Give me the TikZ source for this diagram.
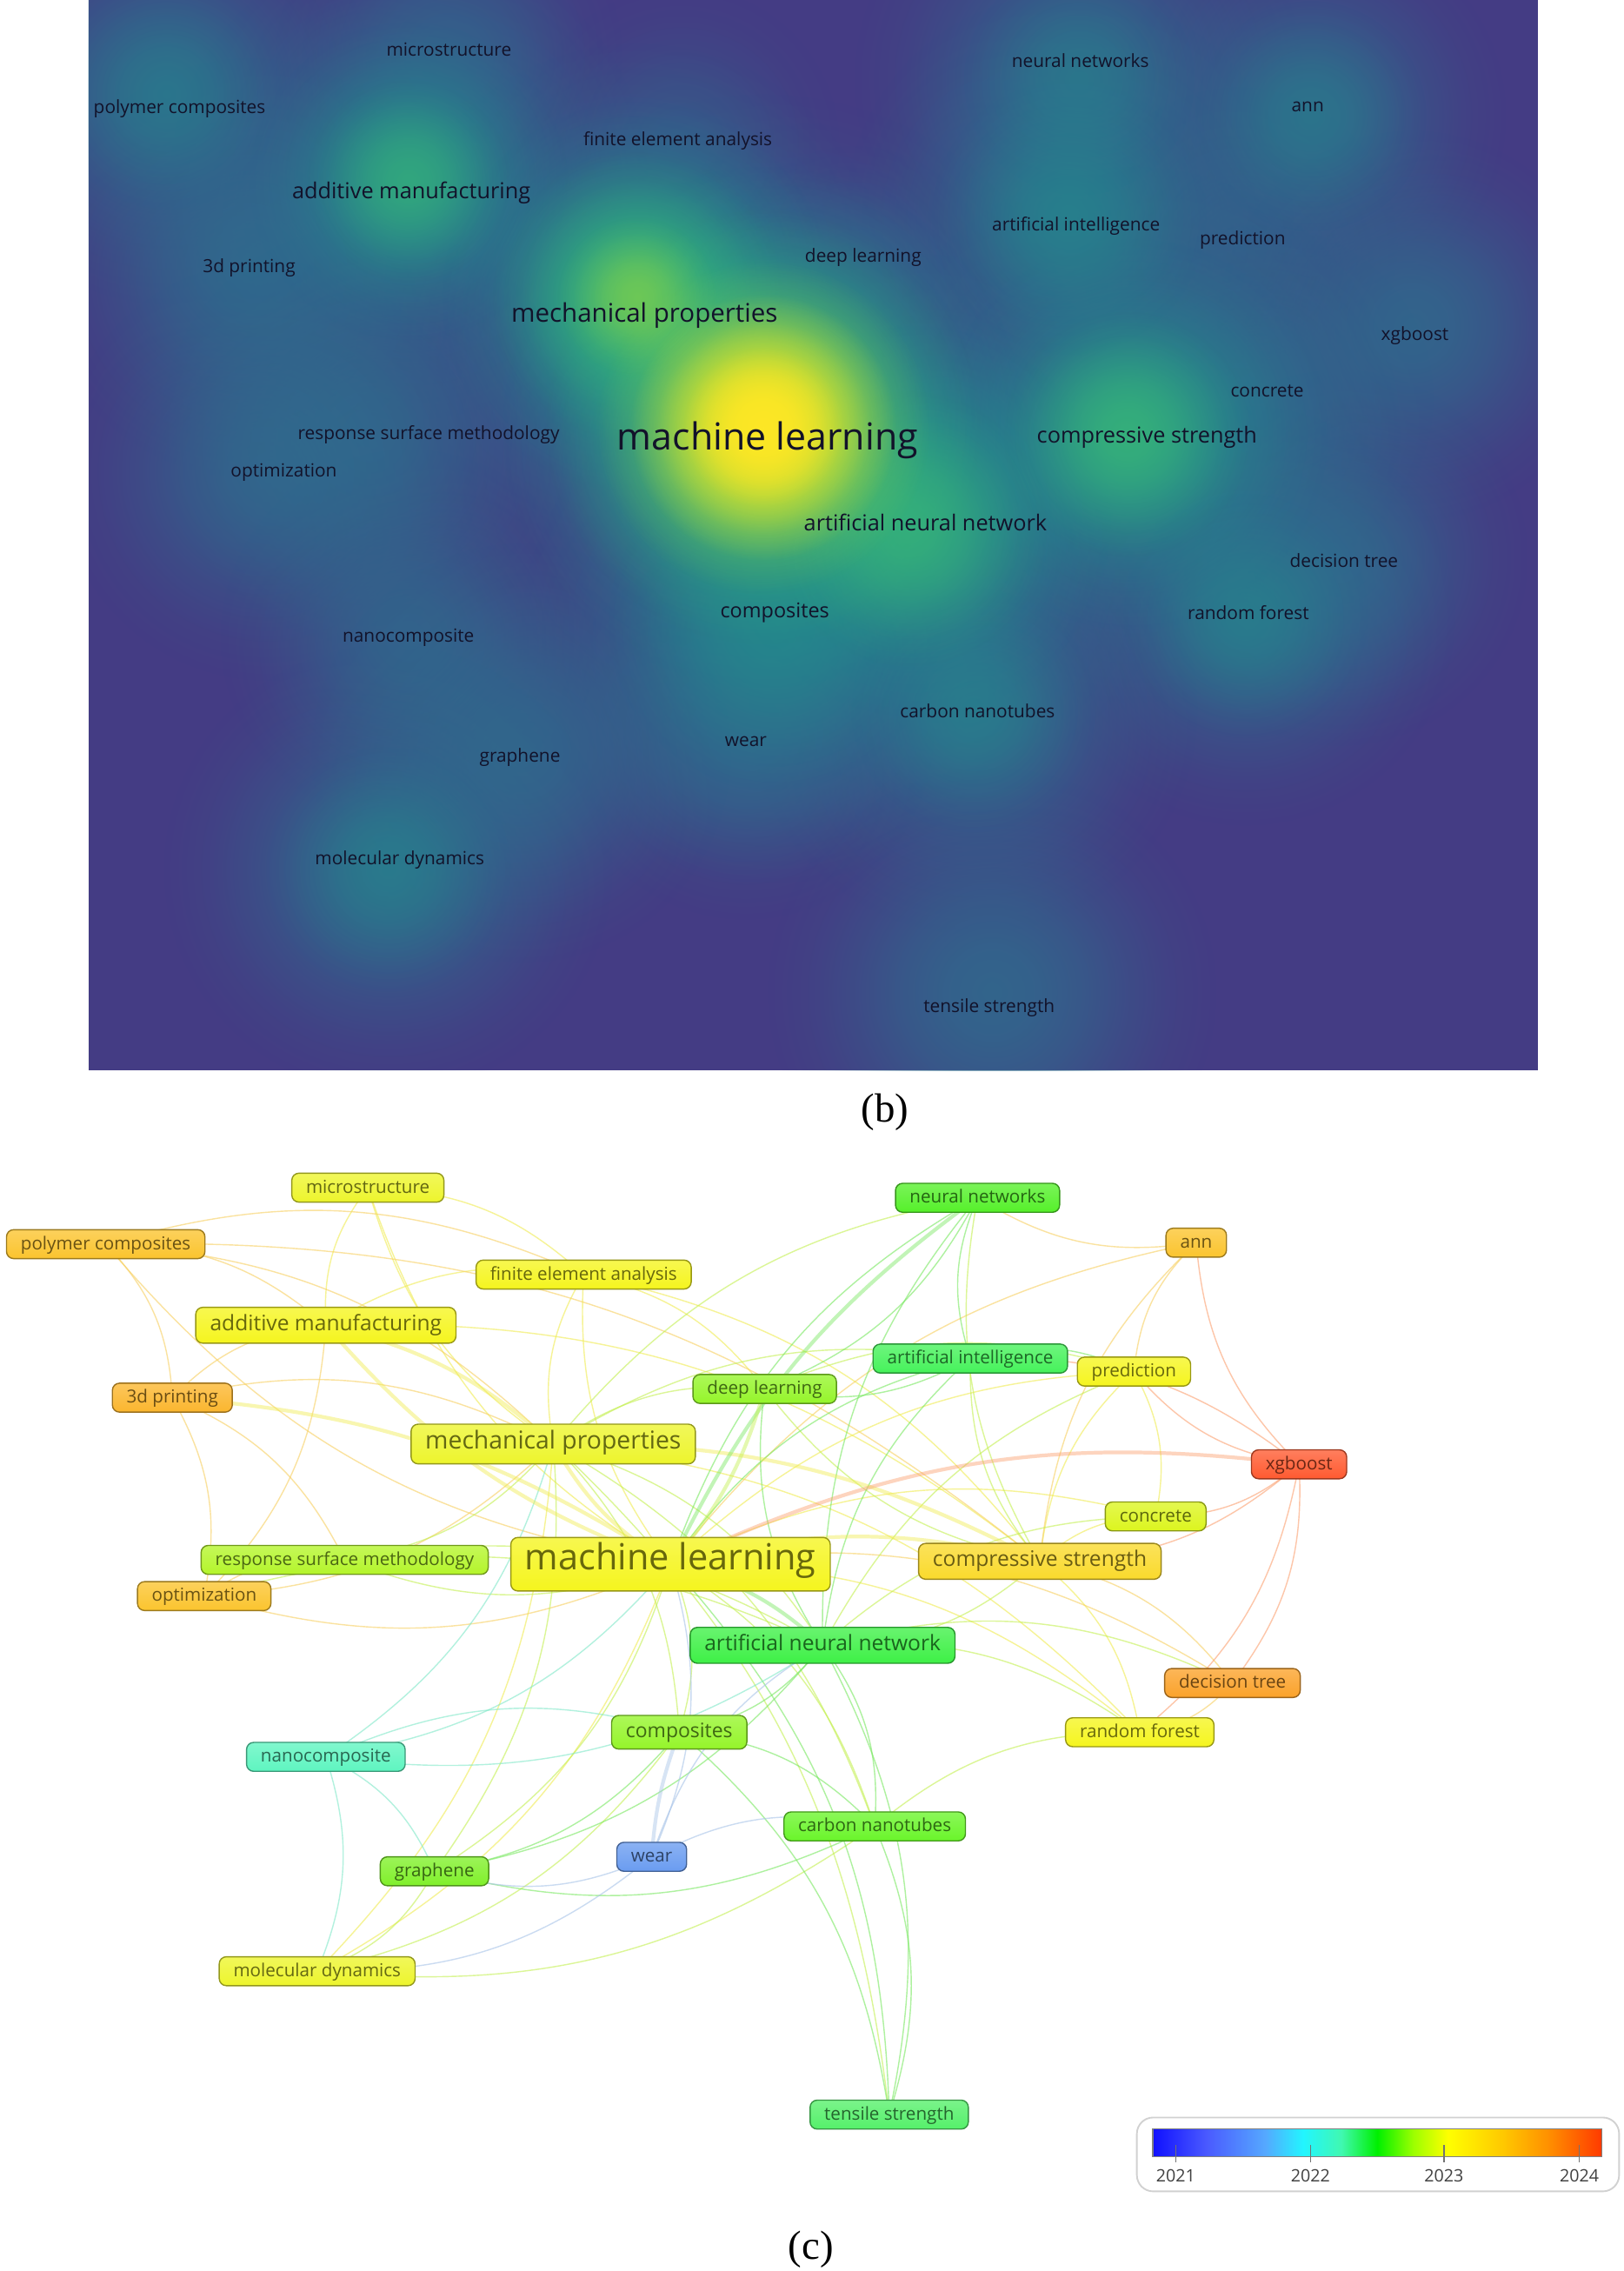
\documentclass[tikz,border=0pt]{standalone}
\usepackage{fontspec}
\setmainfont{Liberation Serif}
\newfontfamily\vosn{Open Sans}
\usetikzlibrary{fadings,backgrounds}

% density fading (path bbox maps to the inner 25bp radius)
\pgfdeclareradialshading{blobsh}{\pgfpointorigin}{color(0bp)=(white); color(5bp)=(black!10); color(10bp)=(black!32); color(15bp)=(black!62); color(20bp)=(black!87); color(25bp)=(black); color(50bp)=(black)}
\pgfdeclarefading{blob}{\pgfuseshading{blobsh}}

% map colours
\definecolor{dbg}{HTML}{443C84}
\definecolor{tA}{HTML}{2E6F8E}
\definecolor{tB}{HTML}{21918C}
\definecolor{gA}{HTML}{3BBB75}
\definecolor{gB}{HTML}{A2DA37}
\definecolor{yA}{HTML}{FDE725}
\definecolor{dtext}{HTML}{12122A}

% node colours
\definecolor{yel}{HTML}{F5F51E}
\definecolor{yel2}{HTML}{EDF52C}
\definecolor{lime}{HTML}{DCF51E}
\definecolor{lime2}{HTML}{B4F52A}
\definecolor{lime3}{HTML}{95F52A}
\definecolor{grn1}{HTML}{80F02A}
\definecolor{grn2}{HTML}{6AF52A}
\definecolor{grn3}{HTML}{55F02A}
\definecolor{grn4}{HTML}{45F25A}
\definecolor{grn5}{HTML}{3EF046}
\definecolor{grn6}{HTML}{55F06A}
\definecolor{mint}{HTML}{5EF5C0}
\definecolor{blu}{HTML}{6A9CF0}
\definecolor{org1}{HTML}{FADA2C}
\definecolor{org2}{HTML}{FBC42E}
\definecolor{org3}{HTML}{FBB62E}
\definecolor{org4}{HTML}{FBA22A}
\definecolor{redx}{HTML}{FF5A30}

% edge colours
\definecolor{ey}{HTML}{F0EC50}
\definecolor{eo}{HTML}{F8D060}
\definecolor{er}{HTML}{FCA070}
\definecolor{eyg}{HTML}{C4F050}
\definecolor{eg}{HTML}{78E860}
\definecolor{ec}{HTML}{80E8C8}
\definecolor{eb}{HTML}{A8C4E8}

% legend colours
\definecolor{lg0}{HTML}{1010FF}
\definecolor{lg1}{HTML}{4A5AFF}
\definecolor{lg2}{HTML}{55A8FF}
\definecolor{lg3}{HTML}{22F5FF}
\definecolor{lg4}{HTML}{40F8B0}
\definecolor{lg5}{HTML}{00F000}
\definecolor{lg6}{HTML}{9CFF00}
\definecolor{lg7}{HTML}{FFFF00}
\definecolor{lg8}{HTML}{FFC800}
\definecolor{lg9}{HTML}{FF9000}
\definecolor{lg10}{HTML}{FF3A00}
\pgfdeclarehorizontalshading{yearbar}{100bp}{color(0bp)=(lg0); color(25bp)=(lg0); color(31bp)=(lg1); color(37.5bp)=(lg2); color(41.75bp)=(lg3); color(46bp)=(lg4); color(50bp)=(lg5); color(54bp)=(lg6); color(57.9bp)=(lg7); color(64bp)=(lg8); color(69bp)=(lg9); color(75bp)=(lg10); color(100bp)=(lg10)}

\tikzset{
  dlab/.style={font=\vosn\fontsize{8.9}{10}\selectfont, text=dtext, inner sep=0pt},
  dlabm/.style={dlab, font=\vosn\fontsize{10.8}{12}\selectfont},
  dlabc/.style={dlab, font=\vosn\fontsize{10}{12}\selectfont},
  dlabl/.style={dlab, font=\vosn\fontsize{12.6}{14}\selectfont},
  dlabx/.style={dlab, font=\vosn\fontsize{18.3}{20}\selectfont},
  kw/.style={rounded corners=3.5pt, draw=#1!62!black, line width=0.6pt,
    top color=#1!78!white, bottom color=#1, text=#1!42!black,
    inner xsep=7pt, inner ysep=0pt, text height=.76em, text depth=.24em},
  nsmall/.style={font=\vosn\fontsize{8.8}{10}\selectfont, minimum height=14.2pt},
  nmedc/.style={font=\vosn\fontsize{9.8}{11}\selectfont, minimum height=16.5pt},
  nmed/.style={font=\vosn\fontsize{10.5}{12}\selectfont, minimum height=17.6pt},
  nbig/.style={font=\vosn\fontsize{12.1}{14}\selectfont, minimum height=19.5pt},
  nhuge/.style={font=\vosn\fontsize{17.7}{20}\selectfont, minimum height=26.3pt},
  edge/.style={line width=0.6pt, draw opacity=0.6},
  fat/.style={line width=1.8pt, draw opacity=0.45},
  legtxt/.style={font=\vosn\fontsize{8.4}{10}\selectfont, text=black!75, inner sep=0pt},
  captxt/.style={font=\fontsize{20}{22}\selectfont, inner sep=0pt}
}

\begin{document}
\begin{tikzpicture}[x=0.025cm,y=-0.025cm]
\useasboundingbox (0,0) rectangle (1121,1568);
\begin{pgfonlayer}{background}
\fill[white] (0,0) rectangle (1121,1568);
\end{pgfonlayer}

% ================= (b) density map =================
\begin{scope}
\clip (61,0) rectangle (1062,739);
\fill[dbg] (61,0) rectangle (1062,739);
\foreach \x/\y/\r/\o in {115/65/145/.85, 310/40/120/.6, 745/55/155/.8, 905/80/135/.8, 470/100/110/.45,
  282/125/165/.95, 738/150/155/.85, 855/170/110/.55, 590/195/95/.45, 172/185/145/.85, 440/205/175/.95,
  975/225/135/.8, 870/275/120/.65, 527/295/230/1, 782/300/185/.95, 255/300/145/.75, 185/325/145/.75,
  632/360/185/.95, 925/385/130/.75, 860/425/145/.85, 535/435/175/.95, 282/440/130/.75, 672/490/155/.85,
  515/505/130/.75, 360/520/145/.8, 268/600/155/.85, 685/685/155/.8}
  \fill[tA, opacity=\o, path fading=blob] (\x,\y) circle (\r);
\foreach \x/\y/\r/\o in {282/125/110/.75, 440/205/135/.9, 527/295/180/1, 782/300/135/.85, 632/360/135/.85,
  535/430/115/.65, 738/150/95/.55, 672/490/85/.45, 268/600/85/.45, 860/425/85/.45, 745/55/80/.35,
  115/65/80/.35, 905/80/80/.35}
  \fill[tB, opacity=\o, path fading=blob] (\x,\y) circle (\r);
\foreach \x/\y/\r/\o in {282/125/70/.6, 440/205/100/.9, 527/295/150/1, 778/300/85/.75, 628/365/95/.7}
  \fill[gA, opacity=\o, path fading=blob] (\x,\y) circle (\r);
\foreach \x/\y/\r/\o in {440/205/55/.5, 527/295/115/1}
  \fill[gB, opacity=\o, path fading=blob] (\x,\y) circle (\r);
\foreach \x/\y/\r/\o in {527/295/92/1, 527/295/55/.8}
  \fill[yA, opacity=\o, path fading=blob] (\x,\y) circle (\r);
\end{scope}

\node[dlab]  (b-ms)   at (310,34)  {microstructure};
\node[dlab]  (b-pc)   at (124,75)  {polymer composites};
\node[dlab]  (b-nn)   at (746,42)  {neural networks};
\node[dlab]  (b-an)   at (903,74)  {ann};
\node[dlab]  (b-fea)  at (468,97)  {finite element analysis};
\node[dlabm] (b-am)   at (284,133) {additive manufacturing};
\node[dlab]  (b-ai)   at (743,156) {artificial intelligence};
\node[dlab]  (b-pr)   at (858,166) {prediction};
\node[dlab]  (b-tp)   at (172,185) {3d printing};
\node[dlab]  (b-dl)   at (596,178) {deep learning};
\node[dlabl] (b-mp)   at (445,218) {mechanical properties};
\node[dlab]  (b-xg)   at (977,232) {xgboost};
\node[dlab]  (b-co)   at (875,270) {concrete};
\node[dlabx] (b-ml)   at (530,304) {machine learning};
\node[dlabm] (b-cs)   at (792,302) {compressive strength};
\node[dlab]  (b-rsm)  at (296,300) {response surface methodology};
\node[dlab]  (b-op)   at (196,326) {optimization};
\node[dlabm] (b-anet) at (639,361) {artificial neural network};
\node[dlab]  (b-dt)   at (928,387) {decision tree};
\node[dlab]  (b-rf)   at (862,423) {random forest};
\node[dlabc] (b-cm)   at (535,423) {composites};
\node[dlab]  (b-nc)   at (282,440) {nanocomposite};
\node[dlab]  (b-cn)   at (675,491) {carbon nanotubes};
\node[dlab]  (b-we)   at (515,512) {wear};
\node[dlab]  (b-gr)   at (359,523) {graphene};
\node[dlab]  (b-md)   at (276,594) {molecular dynamics};
\node[dlab]  (b-ts)   at (683,696) {tensile strength};

\node[captxt] (cap-b) at (611,768) {(b)};

% ================= (c) overlay network =================
\node[kw=yel2, nsmall] (ms)   at (254,820)  {microstructure};
\node[kw=org2, nsmall] (pc)   at (73,859)   {polymer composites};
\node[kw=grn3, nsmall] (nn)   at (675,827)  {neural networks};
\node[kw=org2, nsmall] (an)   at (826,858)  {ann};
\node[kw=yel,  nsmall] (fea)  at (403,880)  {finite element analysis};
\node[kw=yel,  nmed]   (am)   at (225,915)  {additive manufacturing};
\node[kw=grn4, nsmall] (ai)   at (670,938)  {artificial intelligence};
\node[kw=yel,  nsmall] (pr)   at (783,947)  {prediction};
\node[kw=lime3,nsmall] (dl)   at (528,959)  {deep learning};
\node[kw=org3, nsmall] (tp)   at (119,965)  {3d printing};
\node[kw=yel2, nbig]   (mp)   at (382,997)  {mechanical properties};
\node[kw=redx, nsmall] (xg)   at (897,1011) {xgboost};
\node[kw=lime, nsmall] (co)   at (798,1047) {concrete};
\node[kw=yel,  nhuge]  (ml)   at (463,1080) {machine learning};
\node[kw=org1, nmed]   (cs)   at (718,1078) {compressive strength};
\node[kw=lime2,nsmall] (rsm)  at (238,1077) {response surface methodology};
\node[kw=org2, nsmall] (op)   at (141,1102) {optimization};
\node[kw=grn5, nmed]   (anet) at (568,1136) {artificial neural network};
\node[kw=org4, nsmall] (dt)   at (851,1162) {decision tree};
\node[kw=yel,  nsmall] (rf)   at (787,1196) {random forest};
\node[kw=lime3,nmedc]  (cm)   at (469,1196) {composites};
\node[kw=mint, nsmall] (nc)   at (225,1213) {nanocomposite};
\node[kw=grn2, nsmall] (cn)   at (604,1261) {carbon nanotubes};
\node[kw=blu,  nsmall] (we)   at (450,1282) {wear};
\node[kw=grn1, nsmall] (gr)   at (300,1292) {graphene};
\node[kw=yel2, nsmall] (md)   at (219,1361) {molecular dynamics};
\node[kw=grn6, nsmall] (ts)   at (614,1460) {tensile strength};

\begin{pgfonlayer}{background}
\foreach \a/\b in {ml/ms, ml/fea, ml/pr, ml/rf, ml/md, ml/co, mp/ms, mp/fea, mp/md,
  am/ms, am/fea, am/cs, fea/cs, cs/co, cs/pr, cs/rf, pr/co, ms/fea, mp/rf, fea/dl}
  \draw[edge, ey] (\a.center) to[bend left=20] (\b.center);
\foreach \a/\b in {ml/pc, ml/op, ml/an, ml/dt, pc/am, pc/tp, pc/mp, pc/fea, tp/am, tp/mp, tp/op,
  am/op, mp/op, cs/an, cs/dt, pr/an, dt/rf, op/rsm, tp/rsm, an/nn, pc/cs}
  \draw[edge, eo] (\a.center) to[bend left=20] (\b.center);
\foreach \a/\b in {xg/pr, xg/an, xg/cs, xg/dt, xg/rf, xg/co, ai/xg}
  \draw[edge, er] (\a.center) to[bend left=20] (\b.center);
\foreach \a/\b in {ml/rsm, ml/cm, ml/gr, ml/cn, mp/anet, mp/cm, mp/gr, mp/cn, mp/rsm, mp/dl,
  mp/ai, mp/nn, mp/ts, cs/ai, cs/dl, cs/nn, cs/anet, cm/md, gr/md, cn/rf, anet/rf, anet/co,
  anet/pr, dl/pr, rsm/anet, op/anet, cn/md, anet/dt}
  \draw[edge, eyg] (\a.center) to[bend left=20] (\b.center);
\foreach \a/\b in {ml/nn, ml/ai, ml/ts, anet/nn, anet/ai, anet/dl, anet/cm, anet/cn, anet/gr,
  anet/ts, ai/nn, ai/dl, nn/dl, cm/gr, cm/cn, cn/ts, cm/ts, cn/gr, ai/pr}
  \draw[edge, eg] (\a.center) to[bend left=20] (\b.center);
\foreach \a/\b in {ml/nc, mp/nc, anet/nc, nc/gr, nc/md, nc/cm}
  \draw[edge, ec] (\a.center) to[bend left=20] (\b.center);
\foreach \a/\b in {ml/we, we/cn, we/gr, we/md, we/anet}
  \draw[edge, eb] (\a.center) to[bend left=20] (\b.center);
% strong links
\foreach \a/\b in {ml/mp, ml/cs, tp/ml, am/mp, mp/cs, ml/am}
  \draw[fat, ey] (\a.center) to[bend left=14] (\b.center);
\draw[fat, er] (xg.center) to[bend right=16] (ml.center);
\draw[fat, eg] (nn.center) to[bend right=14] (ml.center);
\draw[fat, eg] (ml.center) to[bend left=14] (anet.center);
\draw[fat, eyg] (dl.center) to[bend left=12] (ml.center);
\draw[fat, eb] (we.center) to[bend left=8] (cm.center);
\end{pgfonlayer}

% legend
\draw[black!18, line width=0.8pt, rounded corners=8pt] (785,1462) rectangle (1118,1513);
\shade[shading=yearbar] (796,1470) rectangle (1106,1489);
\draw[black!50, line width=0.6pt] (796,1470) rectangle (1106,1489);
\foreach \xx/\yr in {811.8/2021, 904.9/2022, 997/2023, 1090.5/2024}{
  \draw[black!55, line width=0.6pt] (\xx,1481) -- (\xx,1493);
  \node[legtxt] (y\yr) at (\xx,1502) {\yr};
}

\node[captxt] (cap-c) at (560,1553) {(c)};
\end{tikzpicture}
\end{document}
